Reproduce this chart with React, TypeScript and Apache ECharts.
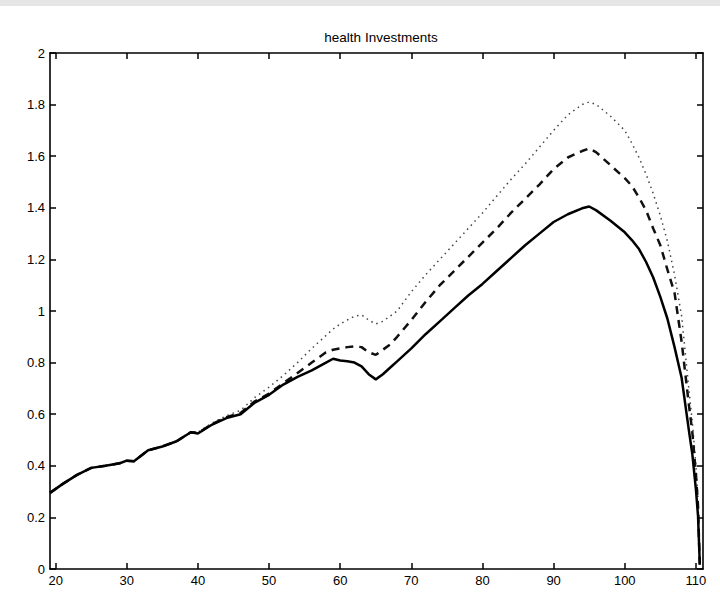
import React, { useEffect, useRef } from "react";
import * as echarts from "echarts";

const titleText = "health Investments";

const ages = [
  19.2, 21, 23, 25, 27, 29, 30, 31, 33, 35, 37, 39, 40, 42, 44, 46, 48, 50, 52, 54, 56, 58, 59, 60, 61,
  62, 63, 64, 65, 66, 67, 68, 70, 72, 74, 76, 78, 80, 82, 84, 86, 88, 90, 92, 94, 95, 96, 98, 100, 101,
  102, 103, 104, 105, 106, 107, 108, 109, 109.5, 110, 110.3, 110.55,
];

const solid = [
  0.295, 0.33, 0.365, 0.392, 0.4, 0.41, 0.42, 0.418, 0.46, 0.475, 0.495, 0.53, 0.525, 0.56, 0.585, 0.6,
  0.645, 0.675, 0.715, 0.745, 0.77, 0.8, 0.815, 0.808, 0.805, 0.8, 0.785, 0.755, 0.735, 0.755, 0.78,
  0.805, 0.855, 0.91, 0.96, 1.01, 1.06, 1.105, 1.155, 1.205, 1.255, 1.3, 1.345, 1.375, 1.398, 1.405,
  1.39, 1.35, 1.305, 1.275, 1.24, 1.19, 1.13, 1.055, 0.97, 0.86, 0.74, 0.54, 0.445, 0.31, 0.206, 0.02,
];

const dashed = [
  0.295, 0.33, 0.365, 0.392, 0.4, 0.41, 0.42, 0.418, 0.46, 0.475, 0.495, 0.53, 0.527, 0.562, 0.588,
  0.605, 0.65, 0.68, 0.72, 0.76, 0.8, 0.84, 0.85, 0.855, 0.86, 0.863, 0.86, 0.84, 0.83, 0.85, 0.87, 0.9,
  0.965, 1.035, 1.1, 1.155, 1.21, 1.265, 1.32, 1.38, 1.435, 1.49, 1.55, 1.595, 1.62, 1.63, 1.615, 1.565,
  1.515, 1.485, 1.44, 1.39, 1.32, 1.255, 1.16, 1.07, 0.88, 0.64, 0.53, 0.37, 0.245, 0.01,
];

const dotted = [
  0.295, 0.33, 0.365, 0.392, 0.4, 0.41, 0.42, 0.418, 0.46, 0.475, 0.497, 0.533, 0.53, 0.566, 0.594,
  0.615, 0.665, 0.705, 0.75, 0.8, 0.855, 0.905, 0.93, 0.95, 0.965, 0.98, 0.985, 0.965, 0.95, 0.96, 0.98,
  1.0, 1.075, 1.14, 1.2, 1.26, 1.32, 1.38, 1.445, 1.51, 1.57, 1.635, 1.7, 1.76, 1.8, 1.81, 1.8, 1.755,
  1.7, 1.65, 1.595, 1.53, 1.455, 1.37, 1.27, 1.14, 0.98, 0.7, 0.57, 0.4, 0.27, 0.01,
];

const xTicks = [20, 30, 40, 50, 60, 70, 80, 90, 100, 110];

const pairs = (ys: number[]) => ages.map((a, i) => [a, ys[i]]);

export default function App() {
  const ref = useRef<HTMLDivElement>(null);
  useEffect(() => {
    document.body.style.margin = "0";
    if (!ref.current) return;
    const chart = echarts.init(ref.current, undefined, { renderer: "svg" });
    const font = "Liberation Sans";
    const axisLine = { show: true, onZero: false, lineStyle: { color: "#000", width: 1.6 } };
    const tick = { show: true, inside: true, length: 6, lineStyle: { color: "#000", width: 1.5 } };
    const xBase = { type: "value", min: 19.2, max: 111, splitLine: { show: false }, axisLine };
    const yBase = { type: "value", min: 0, max: 2, interval: 0.2, splitLine: { show: false }, axisLine };
    chart.setOption({
      animation: false,
      backgroundColor: "#fff",
      title: {
        text: titleText,
        left: 376,
        textAlign: "center",
        top: 25,
        textStyle: { fontSize: 13.5, fontWeight: "normal", color: "#000", fontFamily: font },
      },
      graphic: [
        { type: "rect", left: 0, top: 0, shape: { width: 720, height: 6 }, style: { fill: "#e6e6e6" } },
      ],
      grid: { left: 50, right: 17, top: 53, bottom: 36 },
      xAxis: [
        {
          ...xBase,
          position: "bottom",
          axisTick: { ...tick, customValues: xTicks },
          axisLabel: { customValues: xTicks, fontSize: 13, color: "#000", fontFamily: font, margin: 5 },
        },
        {
          ...xBase,
          position: "top",
          axisTick: { ...tick, customValues: xTicks },
          axisLabel: { show: false },
        },
      ],
      yAxis: [
        {
          ...yBase,
          position: "left",
          axisTick: tick,
          axisLabel: { fontSize: 13, color: "#000", fontFamily: font, margin: 5 },
        },
        {
          ...yBase,
          position: "right",
          axisTick: tick,
          axisLabel: { show: false },
        },
      ],
      series: [
        {
          type: "line",
          data: pairs(dotted),
          showSymbol: false,
          lineStyle: { color: "#444", width: 1.5, type: [1.5, 4] },
        },
        {
          type: "line",
          data: pairs(dashed),
          showSymbol: false,
          lineStyle: { color: "#111", width: 2.5, type: [8, 6] },
        },
        {
          type: "line",
          data: pairs(solid),
          showSymbol: false,
          lineStyle: { color: "#000", width: 2.5 },
        },
      ],
    });
    return () => chart.dispose();
  }, []);
  return <div ref={ref} style={{ width: 720, height: 605 }} />;
}
